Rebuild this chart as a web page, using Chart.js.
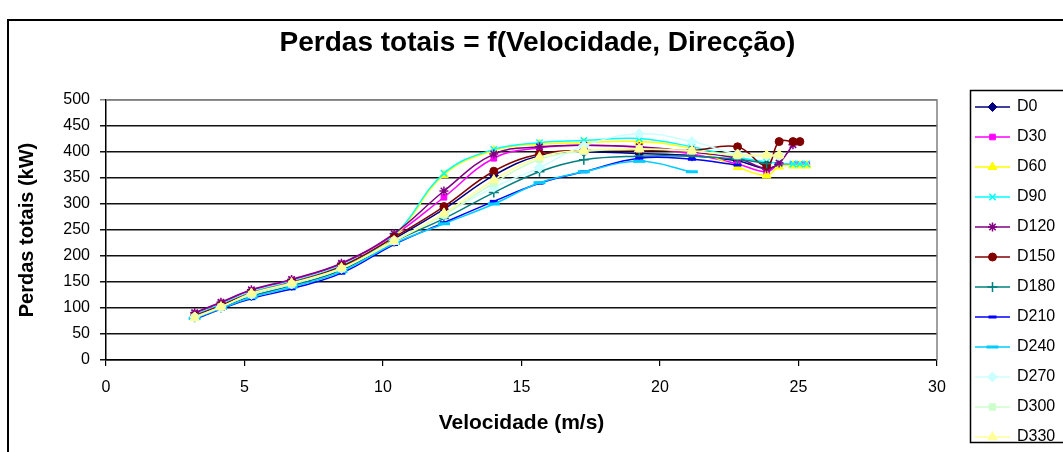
<!DOCTYPE html>
<html>
<head>
<meta charset="utf-8">
<title>Perdas totais</title>
<script src="https://cdn.jsdelivr.net/npm/chart.js@4.4.1/dist/chart.umd.min.js"></script>
<style>
  html, body { margin: 0; padding: 0; background: #fff; overflow: hidden; }
  canvas { display: block; }
</style>
</head>
<body>
<canvas id="grafico" width="1063" height="452"></canvas>
<script>
// Velocidades do vento (m/s) comuns a todas as séries
const velocidade = [3.2, 4.15, 5.25, 6.7, 8.5, 10.4, 12.2, 14.0, 15.65, 17.25, 19.25, 21.15, 22.8, 23.85, 24.3, 24.8, 25.05, 25.3];

// Nomes das direcções
const direccoes = ['D0', 'D30', 'D60', 'D90', 'D120', 'D150', 'D180', 'D210', 'D240', 'D270', 'D300', 'D330'];

// Perdas totais (kW) por direcção
const perdasD0   = [84, 103, 127, 147, 178, 233, 290, 355, 393, 400, 397, 393, 383, 368, 376];
const perdasD30  = [90, 110, 134, 154, 185, 240, 313, 388, 408, 413, 409, 396, 377, 362, 376, 376, 376, 376];
const perdasD60  = [86, 106, 130, 150, 181, 237, 356, 403, 415, 418, 420, 406, 371, 355, 372, 374, 374, 374];
const perdasD90  = [87, 107, 131, 151, 182, 240, 359, 405, 418, 422, 426, 410, 390, 381, 378, 377, 377, 377];
const perdasD120 = [91, 111, 135, 155, 186, 243, 325, 396, 410, 413, 410, 400, 388, 368, 379, 414];
const perdasD150 = [85, 105, 129, 149, 180, 236, 295, 363, 396, 403, 404, 403, 410, 374, 420, 420, 420];
const perdasD180 = [82, 101, 123, 143, 173, 228, 272, 322, 362, 385, 392, 392, 386, 378];
const perdasD210 = [78, 98, 118, 137, 167, 222, 264, 305, 340, 362, 388, 386, 375];
const perdasD240 = [80, 99, 120, 140, 170, 224, 262, 300, 341, 362, 382, 362];
const perdasD270 = [83, 102, 126, 146, 176, 230, 280, 332, 370, 412, 435, 420, 396, 393, 393];
const perdasD300 = [82, 102, 126, 146, 176, 229, 279, 340, 386, 401, 406, 402, 393, 393, 393];
const perdasD330 = [81, 102, 128, 148, 177, 228, 282, 346, 390, 403, 406, 402, 394, 394, 394];

// Marcas dos eixos
const marcasX = [0, 5, 10, 15, 20, 25, 30];
const marcasY = [0, 50, 100, 150, 200, 250, 300, 350, 400, 450, 500];

const series = [perdasD0, perdasD30, perdasD60, perdasD90, perdasD120, perdasD150,
                perdasD180, perdasD210, perdasD240, perdasD270, perdasD300, perdasD330];

// Aspecto de cada série: cor e marcador
const estilos = [
  { cor: '#000080', marca: 'rectRot',  raio: 4.5, traco: 1 },
  { cor: '#FF00FF', marca: 'rect',     raio: 4,   traco: 1 },
  { cor: '#FFFF00', marca: 'triangle', raio: 5,   traco: 1 },
  { cor: '#00FFFF', marca: 'crossRot', raio: 4.5, traco: 1.5 },
  { cor: '#800080', marca: 'star',     raio: 4.5, traco: 1.5 },
  { cor: '#800000', marca: 'circle',   raio: 4,   traco: 1 },
  { cor: '#008080', marca: 'cross',    raio: 5,   traco: 1.5 },
  { cor: '#0000FF', marca: 'line',     raio: 4,   traco: 3 },
  { cor: '#00CCFF', marca: 'line',     raio: 6,   traco: 3 },
  { cor: '#CCFFFF', marca: 'rectRot',  raio: 5,   traco: 1 },
  { cor: '#CCFFCC', marca: 'rect',     raio: 4.5, traco: 1 },
  { cor: '#FFFF99', marca: 'triangle', raio: 5.5, traco: 1 }
];

const FONTE = "'Liberation Sans', Arial, sans-serif";
Chart.defaults.font.family = FONTE;
Chart.defaults.color = '#000';

const conjuntos = direccoes.map((nome, i) => ({
  label: nome,
  data: series[i].map((p, k) => ({ x: velocidade[k], y: p })),
  borderColor: estilos[i].cor,
  backgroundColor: estilos[i].cor,
  pointBackgroundColor: estilos[i].cor,
  pointBorderColor: estilos[i].cor,
  pointStyle: estilos[i].marca,
  pointRadius: estilos[i].raio,
  pointBorderWidth: estilos[i].traco,
  borderWidth: 1.5,
  tension: 0.4,
  fill: false,
  order: direccoes.length - i
}));

// Moldura do gráfico, contorno da área de desenho e legenda
const moldura = {
  id: 'moldura',
  beforeDraw(chart) {
    const ctx = chart.ctx;
    ctx.save();
    ctx.fillStyle = '#fff';
    ctx.fillRect(0, 0, chart.width, chart.height);
    ctx.strokeStyle = '#000';
    ctx.lineWidth = 2;
    ctx.strokeRect(8, 20, chart.width + 20, chart.height + 20);
    ctx.restore();
  },
  beforeDatasetsDraw(chart) {
    const ctx = chart.ctx;
    const a = chart.chartArea;
    ctx.save();
    ctx.strokeStyle = '#808080';
    ctx.lineWidth = 1.5;
    ctx.beginPath();
    ctx.moveTo(a.left, a.top);
    ctx.lineTo(a.right, a.top);
    ctx.lineTo(a.right, a.bottom);
    ctx.stroke();
    ctx.restore();
  },
  afterDraw(chart) {
    const ctx = chart.ctx;
    const bx = 970.5, by = 90.5, bw = 200, bh = 352;
    ctx.save();
    ctx.fillStyle = '#fff';
    ctx.fillRect(bx, by, bw, bh);
    ctx.strokeStyle = '#000';
    ctx.lineWidth = 1.5;
    ctx.strokeRect(bx, by, bw, bh);
    ctx.beginPath();
    ctx.rect(bx + 1, by + 1, bw - 2, bh - 2);
    ctx.clip();
    chart.data.datasets.forEach((ds, i) => {
      const y = 107 + i * 30;
      ctx.strokeStyle = ds.borderColor;
      ctx.lineWidth = ds.borderWidth;
      ctx.beginPath();
      ctx.moveTo(975, y);
      ctx.lineTo(1010, y);
      ctx.stroke();
      ctx.fillStyle = ds.pointBackgroundColor;
      ctx.strokeStyle = ds.pointBorderColor;
      ctx.lineWidth = ds.pointBorderWidth;
      Chart.helpers.drawPoint(ctx, {
        pointStyle: ds.pointStyle,
        radius: ds.pointRadius,
        borderWidth: ds.pointBorderWidth,
        rotation: 0
      }, 992.5, y);
      ctx.fillStyle = '#000';
      ctx.font = '16px ' + FONTE;
      ctx.textBaseline = 'middle';
      ctx.textAlign = 'left';
      ctx.fillText(ds.label, 1017, y);
    });
    ctx.restore();
  }
};

new Chart(document.getElementById('grafico'), {
  type: 'line',
  data: { datasets: conjuntos },
  plugins: [moldura],
  options: {
    responsive: false,
    animation: false,
    devicePixelRatio: 1,
    layout: { padding: { left: 12, right: 0, top: 0, bottom: 0 } },
    plugins: {
      legend: { display: false },
      tooltip: { enabled: false },
      title: {
        display: true,
        text: 'Perdas totais = f(Velocidade, Direcção)',
        color: '#000',
        font: { size: 28, weight: 'bold', family: FONTE },
        padding: { top: 26, bottom: 40.4 }
      }
    },
    scales: {
      x: {
        type: 'linear',
        position: 'bottom',
        min: 0,
        max: 30,
        afterBuildTicks(scale) { scale.ticks = marcasX.map(v => ({ value: v })); },
        afterFit(scale) { scale.height = 92; },
        ticks: { font: { size: 16 }, color: '#000', padding: 12, maxRotation: 0 },
        grid: { drawOnChartArea: false, drawTicks: true, tickLength: 6, color: '#000', lineWidth: 1.2 },
        border: { display: true, color: '#000', width: 1.5 },
        title: {
          display: true,
          text: 'Velocidade (m/s)',
          color: '#000',
          font: { size: 21, weight: 'bold' },
          padding: { top: 0, bottom: 16 }
        }
      },
      y: {
        type: 'linear',
        position: 'left',
        min: 0,
        max: 500,
        afterBuildTicks(scale) { scale.ticks = marcasY.map(v => ({ value: v })); },
        afterFit(scale) { scale.width = 94; },
        ticks: { font: { size: 16 }, color: '#000', padding: 10 },
        grid: {
          drawTicks: true,
          tickLength: 6,
          color: (c) => (c.tick && c.tick.value === 500 ? '#808080' : '#111'),
          lineWidth: 1.5
        },
        border: { display: true, color: '#000', width: 1.5 },
        title: {
          display: true,
          text: 'Perdas totais (kW)',
          color: '#000',
          font: { size: 20, weight: 'bold' },
          padding: { top: 3, bottom: 0 }
        }
      },
      lado: {
        type: 'linear',
        position: 'right',
        display: true,
        afterFit(scale) { scale.width = 126; },
        ticks: { display: false },
        grid: { display: false, drawTicks: false },
        border: { display: false },
        title: { display: false }
      }
    }
  }
});
</script>
</body>
</html>
